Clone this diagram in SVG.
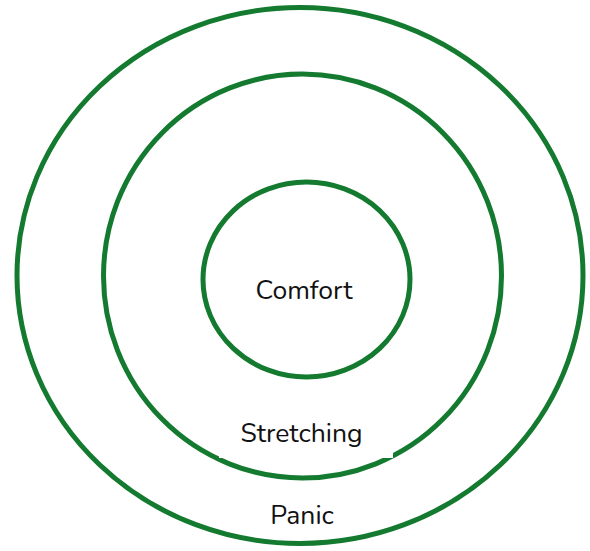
<svg xmlns="http://www.w3.org/2000/svg" width="590" height="551" viewBox="0 0 590 551">
<style>
.ring{fill:none;stroke:#137a2f;stroke-width:5}
.lbl{font-family:"Nunito","Lato","Open Sans",sans-serif;font-size:26.5px;fill:#111;text-anchor:middle}
</style>
<rect width="590" height="551" fill="#fff"/>
<g id="panic">
<ellipse class="ring" cx="300" cy="275.5" rx="283" ry="268"/>
<text class="lbl" x="302" y="524">Panic</text>
</g>
<g id="stretching">
<ellipse class="ring" cx="302.5" cy="276" rx="199" ry="202"/>
<rect x="219" y="418" width="174" height="40" fill="#fff"/>
<text class="lbl" x="301.5" y="442">Stretching</text>
</g>
<g id="comfort">
<ellipse class="ring" cx="306.5" cy="279.5" rx="103.5" ry="97.5"/>
<text class="lbl" x="304" y="299">Comfort</text>
</g>
<g id="connectors"/>
</svg>
